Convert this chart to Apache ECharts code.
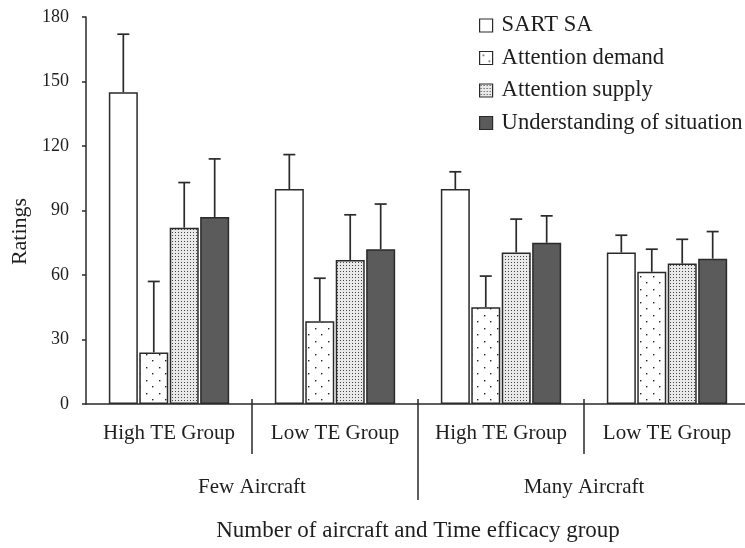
<!DOCTYPE html>
<html><head><meta charset="utf-8">
<script src="https://cdn.jsdelivr.net/npm/echarts@6/dist/echarts.min.js"></script>
<style>html,body{margin:0;padding:0;background:#fff}#c{width:745px;height:548px}</style>
</head><body><div id="c"></div>
<script>
// ---- data ----
const subgroups = ['High TE Group', 'Low TE Group', 'High TE Group', 'Low TE Group'];
const aircraftGroups = ['', 'Few Aircraft', '', 'Many Aircraft', ''];
const seriesNames = ['SART SA', 'Attention demand', 'Attention supply', 'Understanding of situation'];
const sartSA = [145, 100, 100, 70.5];
const sartSAErr = [27, 16, 8, 8];
const attentionDemand = [24, 38.5, 45, 61.5];
const attentionDemandErr = [33, 20, 14.5, 10.5];
const attentionSupply = [82, 67, 70.5, 65.3];
const attentionSupplyErr = [21, 21, 15.5, 11.3];
const understanding = [87, 72, 75, 67.6];
const understandingErr = [27, 21, 12.5, 12.6];
const yMin = 0, yMax = 180, yStep = 30;
const xTitle = 'Number of aircraft and Time efficacy group';
const yTitle = 'Ratings';

// ---- styling ----
const FONT = '"Liberation Serif", "Times New Roman", serif';
const INK = '#1e1e1e';
const BW = 29, GAPR = 0.05;

function pattern(w, h, bg, dots, dotColor, r) {
  const c = document.createElement('canvas');
  c.width = w; c.height = h;
  const g = c.getContext('2d');
  g.fillStyle = bg; g.fillRect(0, 0, w, h);
  g.fillStyle = dotColor;
  dots.forEach(([x, y]) => g.fillRect(x, y, r, r));
  return { image: c, repeat: 'repeat' };
}
const demandFill = pattern(13, 13, '#ffffff', [[3, 3], [9, 9]], '#222', 1.4);
const supplyFill = pattern(3, 3, '#e9e9e9', [[1, 1]], '#444', 1);
const fills = ['#ffffff', demandFill, supplyFill, '#5b5b5b'];
const means = [sartSA, attentionDemand, attentionSupply, understanding];
const errs = [sartSAErr, attentionDemandErr, attentionSupplyErr, understandingErr];

const series = [];
means.forEach((m, si) => {
  series.push({
    name: seriesNames[si], type: 'bar', xAxisIndex: 0, yAxisIndex: 0,
    data: m, barWidth: BW, barGap: (GAPR * 100) + '%',
    itemStyle: { color: fills[si], borderColor: '#2a2a2a', borderWidth: 1.5 },
    emphasis: { disabled: true }, z: 2
  });
});
errs.forEach((e, si) => {
  series.push({
    name: 'err' + si, type: 'custom', xAxisIndex: 0, yAxisIndex: 0, z: 3,
    data: subgroups.map((c, i) => [i, means[si][i], e[i]]),
    encode: { x: 0, y: 1 },
    renderItem: function (params, api) {
      const ci = api.value(0), mean = api.value(1), sd = api.value(2);
      const base = api.coord([ci, mean]);
      const top = api.coord([ci, mean + sd]);
      const x = base[0] + (si - 1.5) * (BW + BW * GAPR);
      const st = { stroke: '#2a2a2a', lineWidth: 1.7 };
      return { type: 'group', children: [
        { type: 'line', shape: { x1: x, y1: base[1], x2: x, y2: top[1] }, style: st },
        { type: 'line', shape: { x1: x - 6, y1: top[1], x2: x + 6, y2: top[1] }, style: st }
      ] };
    }
  });
});

const chart = echarts.init(document.getElementById('c'), null, { renderer: 'canvas' });
chart.setOption({
  animation: false,
  backgroundColor: '#fff',
  textStyle: { fontFamily: FONT, color: INK },
  grid: { left: 86, right: -5, top: 17, bottom: 144, containLabel: false, outerBoundsMode: 'none' },
  legend: {
    data: seriesNames, orient: 'vertical', left: 474, top: 9,
    icon: 'rect', itemWidth: 13, itemHeight: 13, itemGap: 9.5,
    textStyle: { fontFamily: FONT, fontSize: 22.6, color: INK, padding: [0, 0, 0, 4] },
    itemStyle: { borderColor: '#2a2a2a', borderWidth: 1.2 },
    selectedMode: false
  },
  xAxis: [
    {
      type: 'category', data: subgroups, position: 'bottom',
      axisLine: { show: true, lineStyle: { color: '#2a2a2a', width: 1.5 } },
      axisTick: { show: true, inside: true, length: 5, interval: (i) => i > 0, lineStyle: { color: '#2a2a2a', width: 1.5 } },
      axisLabel: { interval: 0, fontFamily: FONT, fontSize: 21, color: INK, margin: 19 },
      splitLine: { show: false }
    },
    {
      type: 'category', data: subgroups, position: 'bottom',
      axisLine: { show: false },
      axisTick: { show: true, length: 50, interval: (i) => i > 0, lineStyle: { color: '#2a2a2a', width: 1.5 } },
      axisLabel: { show: false }, splitLine: { show: false }
    },
    {
      type: 'category', data: aircraftGroups, position: 'bottom', boundaryGap: false,
      axisLine: { show: false },
      axisTick: { show: true, length: 96, interval: (i) => i === 2, lineStyle: { color: '#2a2a2a', width: 1.5 } },
      axisLabel: { interval: 0, fontFamily: FONT, fontSize: 21, color: INK, margin: 73 },
      splitLine: { show: false },
      name: xTitle, nameLocation: 'middle', nameGap: 115,
      nameTextStyle: { fontFamily: FONT, fontSize: 23, color: INK }
    }
  ],
  yAxis: {
    type: 'value', min: yMin, max: yMax, interval: yStep,
    axisLine: { show: true, lineStyle: { color: '#2a2a2a', width: 1.5 } },
    axisTick: { show: true, length: 4, lineStyle: { color: '#2a2a2a', width: 1.5 } },
    axisLabel: { fontFamily: FONT, fontSize: 18, color: INK, margin: 17 },
    splitLine: { show: false },
    name: yTitle, nameLocation: 'middle', nameGap: 52,
    nameTextStyle: { fontFamily: FONT, fontSize: 22, color: INK, padding: [0, 42, 0, 0] }
  },
  series: series
});
</script>
</body></html>
